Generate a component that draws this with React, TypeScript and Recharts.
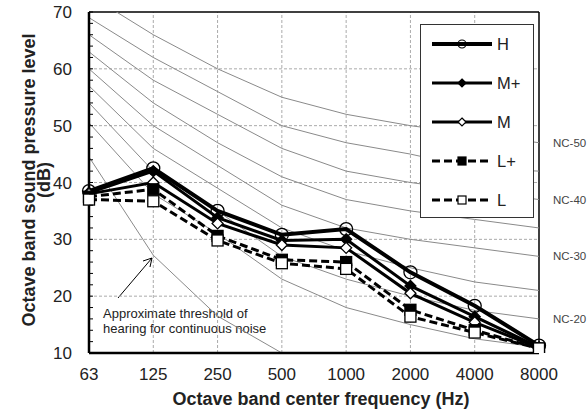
import React from 'react';
import { LineChart, Line, XAxis, YAxis, ReferenceLine, LabelList, Customized } from 'recharts';

const FONT = '"Liberation Sans", Arial, Helvetica, sans-serif';

const freqs = ['63', '125', '250', '500', '1000', '2000', '4000', '8000'];
const yTicks = [10, 12, 14, 16, 18, 20, 22, 24, 26, 28, 30, 32, 34, 36, 38, 40, 42, 44, 46, 48, 50, 52, 54, 56, 58, 60, 62, 64, 66, 68, 70];
const gridY = [20, 30, 40, 50, 60];
const gridX = ['125', '250', '500', '1000', '2000', '4000'];

// measured series
const H = [38.5, 42.5, 35.0, 30.8, 31.8, 24.2, 18.3, 11.3];
const Mplus = [38.2, 42.0, 33.8, 29.8, 30.0, 21.8, 16.4, 11.0];
const M = [38.0, 40.0, 32.8, 29.0, 28.5, 20.5, 15.4, 10.9];
const Lplus = [37.5, 38.8, 30.6, 26.4, 26.0, 17.6, 14.0, 10.8];
const L = [37.0, 36.7, 29.8, 25.8, 24.8, 16.4, 13.6, 10.8];

// NC reference curves as drawn
const NC15 = [50.5, 38, 31, 23, 18, 15, 12.5, 11];
const NC20 = [54, 42, 35, 27, 23, 20, 17.5, 16];
const NC25 = [57, 46, 39, 32, 28, 25, 22.5, 21];
const NC30 = [60, 50, 43, 36, 32, 30, 28.5, 27];
const NC35 = [63, 54, 47, 41, 37, 35, 33.5, 32];
const NC40 = [66, 58, 52, 46, 42, 40, 38.5, 37];
const NC45 = [69, 62, 56, 50, 47, 45, 42.5, 42];
const NC50 = [73, 66, 60, 55, 52, 50, 48.5, 47];
const THRESHOLD = [44.5, 27.2, 16.5, 10];

const ncCurves = [
  { key: 'nc15', values: NC15, label: '' },
  { key: 'nc20', values: NC20, label: 'NC-20' },
  { key: 'nc25', values: NC25, label: '' },
  { key: 'nc30', values: NC30, label: 'NC-30' },
  { key: 'nc35', values: NC35, label: '' },
  { key: 'nc40', values: NC40, label: 'NC-40' },
  { key: 'nc45', values: NC45, label: '' },
  { key: 'nc50', values: NC50, label: 'NC-50' },
];

const data = freqs.map((f, i) => {
  const row: any = {
    freq: f,
    H: H[i],
    Mplus: Mplus[i],
    M: M[i],
    Lplus: Lplus[i],
    L: L[i],
    thr: i < THRESHOLD.length ? THRESHOLD[i] : null,
  };
  ncCurves.forEach((c) => {
    row[c.key] = c.values[i];
  });
  return row;
});

const circleDot = (r: number) => (p: any) => (
  <circle key={`c${p.index}`} cx={p.cx} cy={p.cy} r={r} fill="none" stroke="#000" strokeWidth={1.3} />
);
const diamondDot = (s: number, filled: boolean) => (p: any) => (
  <polygon
    key={`d${p.index}`}
    points={`${p.cx},${p.cy - s} ${p.cx + s},${p.cy} ${p.cx},${p.cy + s} ${p.cx - s},${p.cy}`}
    fill={filled ? '#000' : '#fff'}
    stroke="#000"
    strokeWidth={1.3}
  />
);
const squareDot = (s: number, filled: boolean) => (p: any) => (
  <rect
    key={`s${p.index}`}
    x={p.cx - s}
    y={p.cy - s}
    width={2 * s}
    height={2 * s}
    fill={filled ? '#000' : '#fff'}
    stroke="#000"
    strokeWidth={1.3}
  />
);

const YTick = (props: any) => {
  const { x, y, payload } = props;
  const v = payload.value;
  return (
    <g>
      <line x1={x + 17} x2={x + 21} y1={y} y2={y} stroke="#000" strokeWidth={1} />
      {v % 10 === 0 && (
        <text x={x} y={y} dy={6} textAnchor="end" fontFamily={FONT} fontSize={17} fill="#222">
          {v}
        </text>
      )}
    </g>
  );
};

const XTick = (props: any) => {
  const { x, y, payload } = props;
  return (
    <text x={x} y={y} dy={12} textAnchor="middle" fontFamily={FONT} fontSize={17} fill="#222">
      {payload.value}
    </text>
  );
};

const ncLabel = (text: string) => (p: any) =>
  p.index === freqs.length - 1 && text ? (
    <text key={`l${text}`} x={p.x + 14} y={p.y} dy={4} fontFamily={FONT} fontSize={11.5} fill="#444">
      {text}
    </text>
  ) : null;

const Annotations = () => (
  <g fontFamily={FONT}>
    <g transform="translate(35,180) rotate(-90)">
      <text x={0} y={0} textAnchor="middle" fontSize={18} fontWeight="bold" fill="#222">
        Octave band sound pressure level
      </text>
      <text x={0} y={15} textAnchor="middle" fontSize={18} fontWeight="bold" fill="#222">
        (dB)
      </text>
    </g>
    <text x={321} y={405} textAnchor="middle" fontSize={18} fontWeight="bold" fill="#222">
      Octave band center frequency (Hz)
    </text>
    <text x={103} y={318} fontSize={13} fill="#222">
      Approximate threshold of
    </text>
    <text x={103} y={333} fontSize={13} fill="#222">
      hearing for continuous noise
    </text>
    <line x1={118} y1={298} x2={152} y2={258} stroke="#000" strokeWidth={1} />
    <polyline points="143,261 152,258 150,267" fill="none" stroke="#000" strokeWidth={1} />
  </g>
);

const legendItems = [
  { name: 'H', width: 4, dash: undefined as string | undefined, marker: 'circle', filled: false },
  { name: 'M+', width: 3, dash: undefined, marker: 'diamond', filled: true },
  { name: 'M', width: 3, dash: undefined, marker: 'diamond', filled: false },
  { name: 'L+', width: 3, dash: '8 4', marker: 'square', filled: true },
  { name: 'L', width: 3, dash: '8 4', marker: 'square', filled: false },
];

const LegendBox = () => (
  <div
    style={{
      position: 'absolute',
      left: 420,
      top: 24,
      width: 114,
      height: 194,
      background: '#fff',
      border: '1.5px solid #333',
      boxSizing: 'border-box',
    }}
  >
    <svg width={111} height={191} style={{ display: 'block' }}>
      {legendItems.map((it, i) => {
        const cy = 19 + i * 39;
        const cx = 41;
        return (
          <g key={it.name}>
            <line x1={11} x2={71} y1={cy} y2={cy} stroke="#000" strokeWidth={it.width} strokeDasharray={it.dash} />
            {it.marker === 'circle' && <circle cx={cx} cy={cy} r={4} fill="none" stroke="#000" strokeWidth={1.2} />}
            {it.marker === 'diamond' && (
              <polygon
                points={`${cx},${cy - 4} ${cx + 4},${cy} ${cx},${cy + 4} ${cx - 4},${cy}`}
                fill={it.filled ? '#000' : '#fff'}
                stroke="#000"
                strokeWidth={1.2}
              />
            )}
            {it.marker === 'square' && (
              <rect x={cx - 4} y={cy - 4} width={8} height={8} fill={it.filled ? '#000' : '#fff'} stroke="#000" strokeWidth={1.2} />
            )}
            <text x={76} y={cy + 6} fontFamily={FONT} fontSize={16.5} fill="#222">
              {it.name}
            </text>
          </g>
        );
      })}
    </svg>
  </div>
);

export default function App() {
  return (
    <div style={{ position: 'absolute', left: 0, top: 0, width: 588, height: 414, background: '#fff' }}>
      <LineChart width={588} height={414} data={data} margin={{ top: 12, right: 49, bottom: 0, left: 0 }}>
        <XAxis
          dataKey="freq"
          type="category"
          scale="point"
          padding={{ left: 0, right: 0 }}
          interval={0}
          tickLine={false}
          tickSize={0}
          tickMargin={15}
          height={61}
          axisLine={{ stroke: '#000', strokeWidth: 2.5 }}
          tick={<XTick />}
        />
        <YAxis
          type="number"
          domain={[10, 70]}
          ticks={yTicks}
          interval={0}
          allowDataOverflow
          width={89}
          tickLine={false}
          tickSize={0}
          tickMargin={17}
          axisLine={{ stroke: '#000', strokeWidth: 2.5 }}
          tick={<YTick />}
        />
        {gridY.map((v) => (
          <ReferenceLine key={`gy${v}`} y={v} stroke="#aaa" strokeDasharray="3 2" strokeWidth={1} />
        ))}
        {gridX.map((v) => (
          <ReferenceLine key={`gx${v}`} x={v} stroke="#aaa" strokeDasharray="3 2" strokeWidth={1} />
        ))}
        <ReferenceLine y={70} stroke="#000" strokeWidth={1.5} />
        <ReferenceLine x="8000" stroke="#000" strokeWidth={1.5} />
        {ncCurves.map((c) => (
          <Line
            key={c.key}
            dataKey={c.key}
            stroke="#8a8a8a"
            strokeWidth={1}
            dot={false}
            activeDot={false}
            isAnimationActive={false}
          >
            <LabelList dataKey={c.key} content={ncLabel(c.label)} />
          </Line>
        ))}
        <Line dataKey="thr" stroke="#8a8a8a" strokeWidth={1} dot={false} activeDot={false} isAnimationActive={false} />
        <Line dataKey="H" stroke="#000" strokeWidth={4} dot={circleDot(6.5)} activeDot={false} isAnimationActive={false} />
        <Line dataKey="Mplus" stroke="#000" strokeWidth={3} dot={diamondDot(5.5, true)} activeDot={false} isAnimationActive={false} />
        <Line dataKey="M" stroke="#000" strokeWidth={3} dot={diamondDot(5.5, false)} activeDot={false} isAnimationActive={false} />
        <Line dataKey="Lplus" stroke="#000" strokeWidth={3} strokeDasharray="8 4" dot={squareDot(5.5, true)} activeDot={false} isAnimationActive={false} />
        <Line dataKey="L" stroke="#000" strokeWidth={3} strokeDasharray="8 4" dot={squareDot(5.5, false)} activeDot={false} isAnimationActive={false} />
        <Customized component={<Annotations />} />
      </LineChart>
      <LegendBox />
    </div>
  );
}
